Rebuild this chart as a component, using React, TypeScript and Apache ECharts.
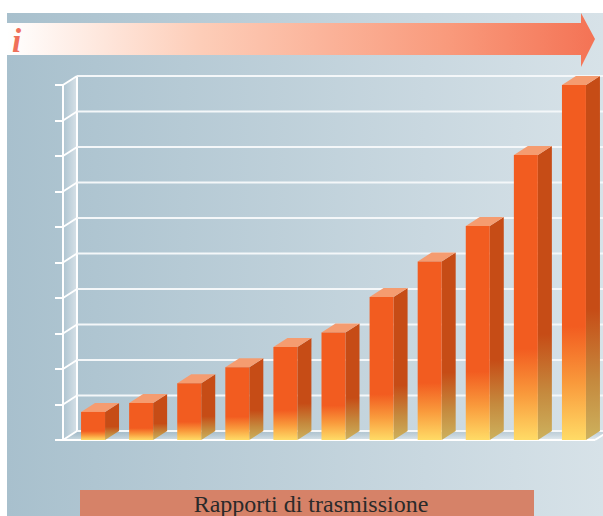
import React, { useEffect, useRef } from "react";
import * as echarts from "echarts";

const categories = ["1", "2", "3", "4", "5", "6", "7", "8", "9", "10", "11"];
const values = [0.79, 1.04, 1.6, 2.05, 2.62, 3.03, 4.03, 5.03, 6.03, 8.03, 10];
const wallTicks = [0, 1, 2, 3, 4, 5, 6, 7, 8, 9, 10];
const titleText = "Rapporti di trasmissione";
const arrowLabel = "i";

const DX = 14;
const DY = -9;
const HALF = 12;
const AXIS_X = 63;
const CHART_W = 603;
const LG = echarts.graphic.LinearGradient;

export default function App() {
  const ref = useRef<HTMLDivElement>(null);
  useEffect(() => {
    const chart = echarts.init(ref.current!, undefined, { renderer: "svg" });
    chart.setOption({
      animation: false,
      backgroundColor: "#ffffff",
      grid: { left: 69, width: 529, top: 85, height: 355 },
      xAxis: {
        type: "category",
        data: categories,
        axisLine: { show: false },
        axisTick: { show: false },
        axisLabel: { show: false },
      },
      yAxis: {
        type: "value",
        min: 0,
        max: 10,
        interval: 1,
        offset: 6,
        axisLine: { show: true, lineStyle: { color: "#ffffff", width: 2 } },
        axisTick: { show: true, length: 8, lineStyle: { color: "#ffffff", width: 2 } },
        axisLabel: { show: false },
        splitLine: { show: false },
      },
      graphic: [
        {
          type: "rect",
          z: -10,
          shape: { x: 7, y: 13, width: 596, height: 503 },
          style: {
            fill: new LG(0, 0, 1, 0, [
              { offset: 0, color: "#A8C0CD" },
              { offset: 1, color: "#D7E2E8" },
            ]),
          },
        },
        {
          type: "polygon",
          z: -9,
          shape: {
            points: [[7, 23], [581, 23], [581, 13], [595, 39], [581, 67], [581, 55], [7, 55]],
          },
          style: {
            fill: new LG(0, 0, 1, 0, [
              { offset: 0, color: "#FFFFFF" },
              { offset: 0.33, color: "#FDCDB8" },
              { offset: 0.75, color: "#F99A7C" },
              { offset: 1, color: "#F47355" },
            ]),
          },
        },
        {
          type: "text",
          z: 5,
          x: 12,
          y: 24,
          style: {
            text: arrowLabel,
            fill: "#F0705A",
            font: "italic bold 33px 'Liberation Serif'",
          },
        },
        {
          type: "rect",
          z: 5,
          shape: { x: 80, y: 490, width: 454, height: 26 },
          style: { fill: "#D68268" },
        },
        {
          type: "text",
          z: 6,
          x: 311,
          y: 504,
          style: {
            text: titleText,
            fill: "#2a2a2a",
            font: "24px 'Liberation Serif'",
            align: "center",
            verticalAlign: "middle",
          },
        },
      ],
      series: [
        {
          type: "custom",
          coordinateSystem: "cartesian2d",
          clip: false,
          z: 1,
          silent: true,
          data: wallTicks.map((t) => [0, t]),
          encode: { x: 0, y: 1 },
          renderItem: (_p: any, api: any) => {
            const v = api.value(1);
            const y = api.coord([0, v])[1];
            const yTop = api.coord([0, 10])[1];
            const xb = AXIS_X + DX;
            const children: any[] = [];
            if (v === 0) {
              children.push({
                type: "polygon",
                shape: { points: [[AXIS_X, yTop], [xb, yTop + DY], [xb, y + DY], [AXIS_X, y]] },
                style: {
                  fill: new LG(0, 0, 1, 0, [
                    { offset: 0, color: "rgba(255,255,255,0.02)" },
                    { offset: 1, color: "rgba(255,255,255,0.5)" },
                  ]),
                },
              });
              children.push({
                type: "polygon",
                shape: { points: [[AXIS_X, y], [xb, y + DY], [CHART_W + 6, y + DY], [595, y]] },
                style: {
                  fill: new LG(0, 0, 0, 1, [
                    { offset: 0, color: "rgba(120,150,170,0.25)" },
                    { offset: 1, color: "rgba(255,255,255,0.4)" },
                  ]),
                },
              });
              children.push({
                type: "line",
                shape: { x1: AXIS_X - 8, y1: y, x2: 595, y2: y },
                style: { stroke: "#ffffff", lineWidth: 2 },
              });
              children.push({
                type: "line",
                shape: { x1: 595, y1: y, x2: CHART_W + 6, y2: y + DY },
                style: { stroke: "#ffffff", lineWidth: 2 },
              });
              children.push({
                type: "line",
                shape: { x1: xb, y1: yTop + DY, x2: xb, y2: y + DY },
                style: { stroke: "#ffffff", lineWidth: 2 },
              });
            }
            children.push({
              type: "line",
              shape: { x1: AXIS_X, y1: y, x2: xb, y2: y + DY },
              style: { stroke: "#ffffff", lineWidth: 2 },
            });
            children.push({
              type: "line",
              shape: { x1: xb, y1: y + DY, x2: CHART_W, y2: y + DY },
              style: { stroke: "#F4F7F9", lineWidth: 2 },
            });
            return { type: "group", children };
          },
        },
        {
          type: "custom",
          coordinateSystem: "cartesian2d",
          clip: false,
          z: 3,
          data: values.map((v, i) => [i, v]),
          encode: { x: 0, y: 1 },
          renderItem: (_p: any, api: any) => {
            const [cx, top] = api.coord([api.value(0), api.value(1)]);
            const base = api.coord([api.value(0), 0])[1];
            const l = cx - HALF;
            const r = cx + HALF;
            const grad = 0.68;
            return {
              type: "group",
              children: [
                {
                  type: "polygon",
                  shape: { points: [[r, top], [r + DX, top + DY], [r + DX, base + DY], [r, base]] },
                  style: {
                    fill: new LG(0, 0, 0, 1, [
                      { offset: 0, color: "#C64C16" },
                      { offset: grad - 0.04, color: "#C64C16" },
                      { offset: 0.84, color: "#C58A3E" },
                      { offset: 1, color: "#CDB25E" },
                    ]),
                  },
                },
                {
                  type: "polygon",
                  shape: { points: [[l, top], [r, top], [r + DX, top + DY], [l + DX, top + DY]] },
                  style: { fill: "#F59C70" },
                },
                {
                  type: "rect",
                  shape: { x: l, y: top, width: 24, height: base - top },
                  style: {
                    fill: new LG(0, 0, 0, 1, [
                      { offset: 0, color: "#F25C20" },
                      { offset: grad, color: "#F25C20" },
                      { offset: 0.84, color: "#F99A3C" },
                      { offset: 1, color: "#FFDB66" },
                    ]),
                  },
                },
              ],
            };
          },
        },
      ],
    });
    return () => chart.dispose();
  }, []);
  return (
    <div
      ref={ref}
      style={{ position: "absolute", left: 0, top: 0, width: 603, height: 516, overflow: "hidden" }}
    />
  );
}
